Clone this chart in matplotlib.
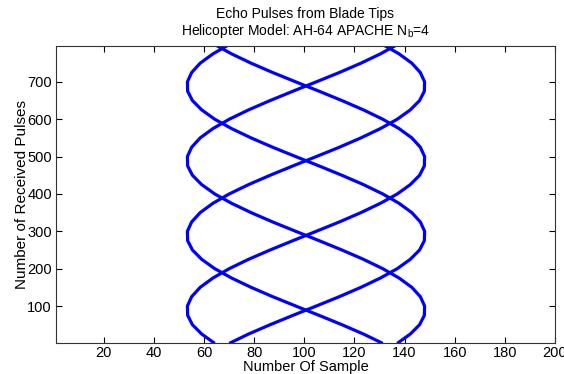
import matplotlib
matplotlib.use("Agg")
import matplotlib.pyplot as plt
import numpy as np

plt.rcParams['font.family'] = ['Liberation Sans', 'DejaVu Sans']
plt.rcParams['mathtext.fontset'] = 'custom'
plt.rcParams['mathtext.rm'] = 'Liberation Sans'
plt.rcParams['mathtext.it'] = 'Liberation Sans:italic'

# echo position (sample number) of blade 1 tip, every 25 pulses over one rotor revolution
pulse_grid = [0, 25, 50, 75, 100, 125, 150, 175, 200, 225, 250, 275, 300, 325, 350, 375,
              400, 425, 450, 475, 500, 525, 550, 575, 600, 625, 650, 675, 700, 725, 750, 775, 800]
blade1_sample = [137.1, 142.3, 146.0, 147.9, 148.0, 146.3, 142.9, 137.8, 131.3, 123.6, 115.0,
                 105.9, 96.6, 87.4, 78.8, 71.0, 64.3, 59.1, 55.4, 53.5, 53.4, 55.1, 58.5, 63.6,
                 70.1, 77.8, 86.4, 95.5, 104.8, 114.0, 122.6, 130.4, 137.1]
n_blades = 4

x_ticks = [20, 40, 60, 80, 100, 120, 140, 160, 180, 200]
y_ticks = [100, 200, 300, 400, 500, 600, 700]

fig = plt.figure(figsize=(5.64, 3.74), dpi=100)
ax = fig.add_axes([56 / 564, 1 - 343 / 374, 499 / 564, 297 / 374])

# each blade is the same track shifted by a quarter revolution
base = np.array(blade1_sample[:-1])
step = len(base) // n_blades
for k in range(n_blades):
    track = np.roll(base, -k * step)
    track = np.append(track, track[0])
    ax.plot(track, pulse_grid, color=(0, 0, 1), lw=2.3, solid_capstyle='butt')

ax.set_xlim(1, 200)
ax.set_ylim(1, 796)
ax.set_xticks(x_ticks)
ax.set_yticks(y_ticks)
ax.tick_params(direction='in', length=4, width=0.8, top=True, right=True,
               labelsize=10.5, colors='black')
ax.tick_params(axis='x', pad=2)
ax.tick_params(axis='y', pad=3)
for s in ax.spines.values():
    s.set_linewidth(0.8)
    s.set_color('#333333')

ax.set_title("Echo Pulses from Blade Tips\nHelicopter Model: AH-64 APACHE N$_{\\rm b}$=4",
             fontsize=10, pad=8, linespacing=1.05)
ax.set_xlabel("Number Of Sample", fontsize=10.5, labelpad=0)
ax.set_ylabel("Number of Received Pulses", fontsize=11, labelpad=-1)

fig.savefig("out.png", dpi=100)
